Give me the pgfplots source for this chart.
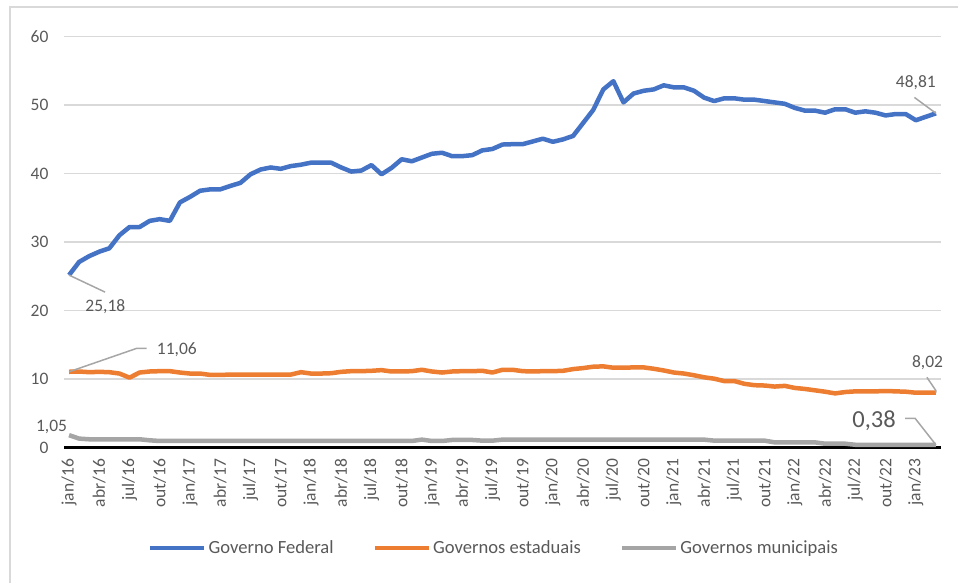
\documentclass[border=0pt]{standalone}
\usepackage{fontspec}
\setmainfont{Carlito}
\usepackage{pgfplots}
\usepackage{pgfplotstable}
\pgfplotsset{compat=1.18}
\definecolor{cfed}{HTML}{4472C4}
\definecolor{cest}{HTML}{ED7D31}
\definecolor{cmun}{HTML}{A5A5A5}
\definecolor{ctxt}{HTML}{595959}
\definecolor{cgrid}{HTML}{D9D9D9}
\definecolor{clead}{HTML}{A6A6A6}

\pgfplotstableread{
i fed est mun
0 25.18 11.06 1.8
1 27.1 11.1 1.3
2 27.95 11.0 1.2
3 28.6 11.05 1.2
4 29.1 11.0 1.2
5 31.0 10.8 1.2
6 32.2 10.2 1.2
7 32.2 10.95 1.2
8 33.1 11.1 1.05
9 33.35 11.15 0.95
10 33.1 11.15 0.95
11 35.8 10.95 0.95
12 36.6 10.8 0.95
13 37.5 10.8 0.95
14 37.7 10.6 0.95
15 37.7 10.6 0.95
16 38.2 10.65 0.95
17 38.65 10.65 0.95
18 39.9 10.65 0.95
19 40.6 10.65 0.95
20 40.9 10.65 0.95
21 40.7 10.65 0.95
22 41.1 10.65 0.95
23 41.3 11.0 0.95
24 41.6 10.8 0.95
25 41.6 10.8 0.95
26 41.6 10.85 0.95
27 40.9 11.05 0.95
28 40.3 11.15 0.95
29 40.45 11.15 0.95
30 41.25 11.2 0.95
31 39.9 11.3 0.95
32 40.85 11.1 0.95
33 42.1 11.1 0.95
34 41.8 11.15 0.95
35 42.35 11.35 1.15
36 42.9 11.1 0.95
37 43.05 10.95 0.95
38 42.55 11.1 1.1
39 42.55 11.15 1.1
40 42.7 11.15 1.1
41 43.4 11.2 1.0
42 43.6 10.95 1.0
43 44.25 11.35 1.15
44 44.3 11.35 1.15
45 44.3 11.15 1.15
46 44.7 11.1 1.15
47 45.1 11.15 1.15
48 44.65 11.15 1.15
49 45.0 11.2 1.15
50 45.5 11.45 1.15
51 47.4 11.6 1.15
52 49.3 11.8 1.15
53 52.3 11.85 1.15
54 53.5 11.65 1.15
55 50.4 11.65 1.15
56 51.7 11.7 1.15
57 52.1 11.7 1.15
58 52.3 11.5 1.15
59 52.9 11.25 1.15
60 52.6 10.95 1.15
61 52.6 10.8 1.15
62 52.1 10.55 1.15
63 51.1 10.25 1.15
64 50.6 10.05 1.0
65 51.0 9.7 1.0
66 51.0 9.7 1.0
67 50.8 9.3 1.0
68 50.8 9.1 1.0
69 50.6 9.05 1.0
70 50.4 8.9 0.75
71 50.2 9.0 0.75
72 49.6 8.7 0.75
73 49.2 8.55 0.75
74 49.2 8.35 0.75
75 48.9 8.15 0.55
76 49.4 7.9 0.55
77 49.4 8.1 0.55
78 48.9 8.2 0.4
79 49.1 8.2 0.4
80 48.9 8.2 0.4
81 48.5 8.25 0.4
82 48.7 8.2 0.4
83 48.7 8.15 0.4
84 47.8 8.0 0.4
85 48.3 8.0 0.4
86 48.81 8.02 0.38
}\data

\begin{document}
\begin{tikzpicture}
\useasboundingbox (0pt,0pt) rectangle (958pt,583pt);
\draw[cgrid, line width=1.5pt] (10pt,0pt) -- (10pt,576pt) -- (960pt,576pt);
\begin{axis}[
  at={(64pt,135.5pt)}, anchor=south west,
  scale only axis, width=877pt, height=410.8pt,
  xmin=-0.5, xmax=86.5, ymin=0, ymax=60,
  axis line style={draw=none},
  ytick={0,10,...,60},
  xtick={0,3,...,84},
  xticklabels={jan/16,abr/16,jul/16,out/16,jan/17,abr/17,jul/17,out/17,jan/18,abr/18,jul/18,out/18,jan/19,abr/19,jul/19,out/19,jan/20,abr/20,jul/20,out/20,jan/21,abr/21,jul/21,out/21,jan/22,abr/22,jul/22,out/22,jan/23},
  major tick length=0pt,
  ymajorgrids, grid style={cgrid, line width=1.5pt},
  tick label style={font=\fontsize{17.5}{20}\selectfont, text=ctxt},
  /pgf/number format/assume math mode=true,
  xticklabel style={rotate=90, anchor=east},
  xticklabel shift=8pt,
  yticklabel shift=12pt,
  clip=false,
  legend style={at={(0.4903,-0.2447)}, anchor=center, draw=none,
    font=\fontsize{18.6}{21}\selectfont, text=ctxt,
    /tikz/every even column/.append style={column sep=37pt}},
  legend columns=3,
  legend cell align=left,
  legend image code/.code={\draw[#1, line width=4.5pt] (0pt,0pt) -- (54pt,0pt);},
]
\draw[black, line width=2.5pt] (axis cs:-0.5,0) -- (axis cs:86.5,0);
\addplot[cfed, line width=4.5pt, line join=round, mark=none] table[x=i,y=fed]{\data};
\addlegendentry{Governo Federal}
\addplot[cest, line width=4.5pt, line join=round, mark=none] table[x=i,y=est]{\data};
\addlegendentry{Governos estaduais}
\addplot[cmun, line width=4.5pt, line join=round, mark=none] table[x=i,y=mun]{\data};
\addlegendentry{Governos municipais}

% data labels
\draw[clead, line width=1.5pt] (axis cs:0,25.18) -- (axis cs:3.57,22.7);
\node[font=\fontsize{17.5}{20}\selectfont, text=ctxt] at (axis cs:3.6,20.5) {25,18};
\draw[clead, line width=1.5pt] (axis cs:0,11.06) -- (axis cs:6.71,14.48) -- (axis cs:7.7,14.48);
\node[font=\fontsize{17.5}{20}\selectfont, text=ctxt] at (axis cs:10.7,14.3) {11,06};
\node[font=\fontsize{17.5}{20}\selectfont, text=ctxt] at (axis cs:-1.74,3.0) {1,05};
\draw[clead, line width=1.5pt] (axis cs:83.86,51.13) -- (axis cs:86,48.81);
\node[font=\fontsize{17.5}{20}\selectfont, text=ctxt] at (axis cs:84.0,53.26) {48,81};
\draw[clead, line width=1.5pt] (axis cs:85.1,10.25) -- (axis cs:86,8.3) -- (axis cs:86,8.02);
\node[font=\fontsize{17.5}{20}\selectfont, text=ctxt] at (axis cs:85.17,12.4) {8,02};
\draw[clead, line width=1.5pt] (axis cs:82.94,4.26) -- (axis cs:83.93,4.26) -- (axis cs:86,0.38);
\node[font=\fontsize{24.5}{28}\selectfont, text=ctxt] at (axis cs:79.86,3.94) {0,38};
\end{axis}
\end{tikzpicture}
\end{document}
